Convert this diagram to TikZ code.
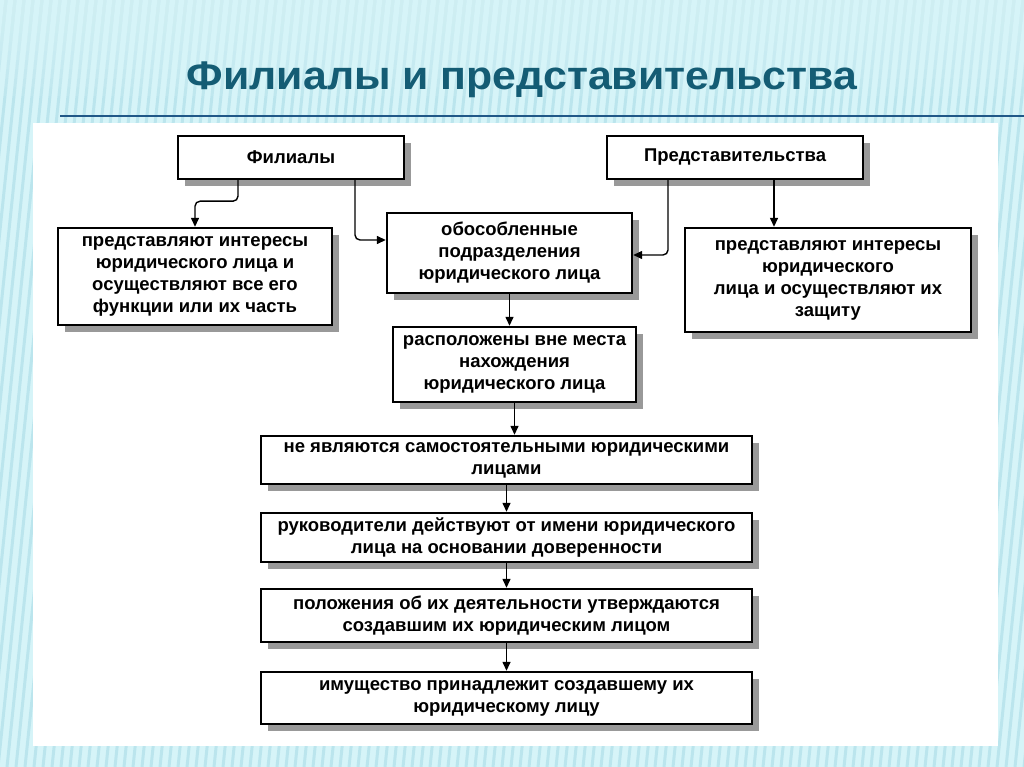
\documentclass[tikz,border=0pt]{standalone}
\usepackage{fontspec}
\setmainfont{Liberation Sans}
\newfontfamily\titlefont[FakeStretch=1.07]{Liberation Sans}
\usetikzlibrary{positioning, arrows.meta, shadows, patterns}
\definecolor{slidebg}{RGB}{214,244,248}
\definecolor{stripe}{RGB}{170,220,231}
\definecolor{titleteal}{RGB}{20,92,116}
\definecolor{ruleblue}{RGB}{32,88,136}
\tikzset{
    x=1pt, y=-1pt, % one unit per pixel, origin at the top left
    >={Triangle[length=9pt,width=8pt]}, % filled arrow heads
    box/.style={draw, line width=2.4pt, fill=white, align=center, inner sep=2pt,
        font=\fontsize{18.5}{22}\selectfont\bfseries,
        drop shadow={shadow xshift=7pt, shadow yshift=-7pt, opacity=1, fill=black!40}}, % boxes with grey shadow
    link/.style={->, line width=1.4pt, rounded corners=5pt}, % connectors
}

\begin{document}
\begin{tikzpicture}
    \useasboundingbox (0,0) rectangle (1024,767);
    % slide background
    \fill[slidebg] (0,0) rectangle (1024,767);
    \foreach \s in {-200,-191,...,1100}
        \draw[stripe, line width=3pt, opacity=.6] (\s,767) -- (\s+80,0);
    \foreach \i in {0,...,9}
        \fill[slidebg, opacity=.15] (0,0) rectangle (1024,15+9*\i);
    \fill[white] (33,123) rectangle (998,746);
    \draw[ruleblue, line width=2.5pt] (60,116) -- (1024,116);
    \node[font=\titlefont\fontsize{40}{44}\selectfont\bfseries, text=titleteal, anchor=base] (title) at (522,90) {Филиалы и представительства};

    % boxes
    \node[box, minimum width=226pt, minimum height=43pt] (fil) at (291,157.5) {Филиалы};
    \node[box, minimum width=256pt, minimum height=43pt] (pred) at (735,157.5) {Представительства};
    \node[box, minimum width=245pt, minimum height=80pt] (obos) at (509.5,253) {обособленные\\подразделения\\юридического лица};
    \node[box, minimum width=274pt, minimum height=97pt] (filint) at (195,276.5) {представляют интересы\\юридического лица и\\осуществляют все его\\функции или их часть};
    \node[box, minimum width=286pt, minimum height=104pt] (predint) at (828,280) {представляют интересы\\юридического\\лица и осуществляют их\\защиту};
    \node[box, minimum width=243pt, minimum height=75pt] (rasp) at (514.5,364.5) {расположены вне места\\нахождения\\юридического лица};
    \node[box, minimum width=491pt, minimum height=48pt] (nelico) at (506.5,460) {не являются самостоятельными юридическими\\лицами};
    \node[box, minimum width=491pt, minimum height=49pt] (ruk) at (506.5,537.5) {руководители действуют от имени юридического\\лица на основании доверенности};
    \node[box, minimum width=491pt, minimum height=53pt] (polozh) at (506.5,615.5) {положения об их деятельности утверждаются\\создавшим их юридическим лицом};
    \node[box, minimum width=491pt, minimum height=52pt] (imush) at (506.5,698) {имущество принадлежит создавшему их\\юридическому лицу};

    % connectors
    \coordinate (predout) at ([xshift=39pt]pred.south);
    \draw[link] ([xshift=-53pt]fil.south) -- ++(0,21) -| (filint.north);
    \draw[link] ([xshift=64pt]fil.south) |- ([yshift=13pt]obos.west);
    \draw[link] ([xshift=-67pt]pred.south) |- ([yshift=-2pt]obos.east);
    \draw[link] (predout) -- (predout |- predint.north);
    \draw[link] (obos.south) -- (obos.south |- rasp.north);
    \draw[link] (rasp.south) -- (rasp.south |- nelico.north);
    \draw[link] (nelico) -- (ruk);
    \draw[link] (ruk) -- (polozh);
    \draw[link] (polozh) -- (imush);
\end{tikzpicture}
\end{document}
